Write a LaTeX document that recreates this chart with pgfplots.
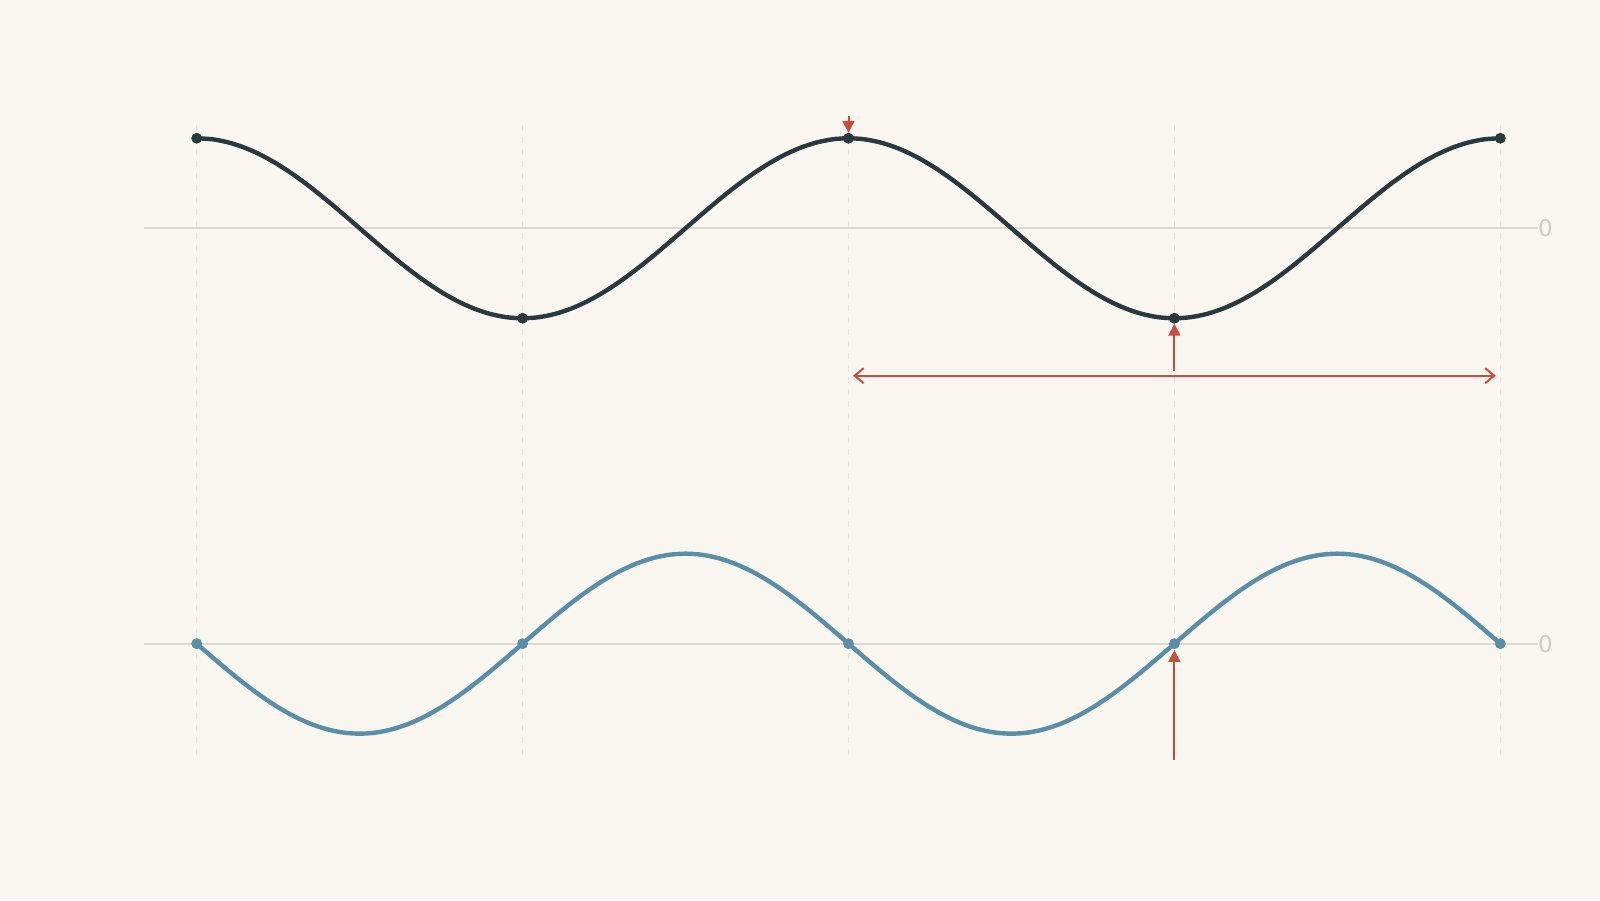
\documentclass[border=0pt]{standalone}
\usepackage{pgfplots}
\pgfplotsset{compat=1.18}
\usepackage{pgfplotstable}
\usepackage{fontspec}
\setmainfont{DejaVu Sans}
\usetikzlibrary{arrows.meta}

\definecolor{bg}{HTML}{F9F6F0}
\definecolor{ink}{HTML}{2A3940}
\definecolor{steel}{HTML}{5A8EA8}
\definecolor{accent}{HTML}{C94C3E}
\definecolor{zeroline}{HTML}{DDD9D0}
\definecolor{gridc}{HTML}{E7E3DB}
\definecolor{lbl}{HTML}{CFCBC3}

% cosine (top) and negative sine (bottom), sampled every 0.05
\pgfplotstableread{
t y
0.00 1
0.05 0.9877
0.10 0.9511
0.15 0.8910
0.20 0.8090
0.25 0.7071
0.30 0.5878
0.35 0.4540
0.40 0.3090
0.45 0.1564
0.50 0
0.55 -0.1564
0.60 -0.3090
0.65 -0.4540
0.70 -0.5878
0.75 -0.7071
0.80 -0.8090
0.85 -0.8910
0.90 -0.9511
0.95 -0.9877
1.00 -1
1.05 -0.9877
1.10 -0.9511
1.15 -0.8910
1.20 -0.8090
1.25 -0.7071
1.30 -0.5878
1.35 -0.4540
1.40 -0.3090
1.45 -0.1564
1.50 0
1.55 0.1564
1.60 0.3090
1.65 0.4540
1.70 0.5878
1.75 0.7071
1.80 0.8090
1.85 0.8910
1.90 0.9511
1.95 0.9877
2.00 1
2.05 0.9877
2.10 0.9511
2.15 0.8910
2.20 0.8090
2.25 0.7071
2.30 0.5878
2.35 0.4540
2.40 0.3090
2.45 0.1564
2.50 0
2.55 -0.1564
2.60 -0.3090
2.65 -0.4540
2.70 -0.5878
2.75 -0.7071
2.80 -0.8090
2.85 -0.8910
2.90 -0.9511
2.95 -0.9877
3.00 -1
3.05 -0.9877
3.10 -0.9511
3.15 -0.8910
3.20 -0.8090
3.25 -0.7071
3.30 -0.5878
3.35 -0.4540
3.40 -0.3090
3.45 -0.1564
3.50 0
3.55 0.1564
3.60 0.3090
3.65 0.4540
3.70 0.5878
3.75 0.7071
3.80 0.8090
3.85 0.8910
3.90 0.9511
3.95 0.9877
4.00 1
}\topcurve

\pgfplotstableread{
t y
0.00 0
0.05 -0.1564
0.10 -0.3090
0.15 -0.4540
0.20 -0.5878
0.25 -0.7071
0.30 -0.8090
0.35 -0.8910
0.40 -0.9511
0.45 -0.9877
0.50 -1
0.55 -0.9877
0.60 -0.9511
0.65 -0.8910
0.70 -0.8090
0.75 -0.7071
0.80 -0.5878
0.85 -0.4540
0.90 -0.3090
0.95 -0.1564
1.00 0
1.05 0.1564
1.10 0.3090
1.15 0.4540
1.20 0.5878
1.25 0.7071
1.30 0.8090
1.35 0.8910
1.40 0.9511
1.45 0.9877
1.50 1
1.55 0.9877
1.60 0.9511
1.65 0.8910
1.70 0.8090
1.75 0.7071
1.80 0.5878
1.85 0.4540
1.90 0.3090
1.95 0.1564
2.00 0
2.05 -0.1564
2.10 -0.3090
2.15 -0.4540
2.20 -0.5878
2.25 -0.7071
2.30 -0.8090
2.35 -0.8910
2.40 -0.9511
2.45 -0.9877
2.50 -1
2.55 -0.9877
2.60 -0.9511
2.65 -0.8910
2.70 -0.8090
2.75 -0.7071
2.80 -0.5878
2.85 -0.4540
2.90 -0.3090
2.95 -0.1564
3.00 0
3.05 0.1564
3.10 0.3090
3.15 0.4540
3.20 0.5878
3.25 0.7071
3.30 0.8090
3.35 0.8910
3.40 0.9511
3.45 0.9877
3.50 1
3.55 0.9877
3.60 0.9511
3.65 0.8910
3.70 0.8090
3.75 0.7071
3.80 0.5878
3.85 0.4540
3.90 0.3090
3.95 0.1564
4.00 0
}\botcurve

\pgfplotsset{
  panel/.style={
    scale only axis, width=697pt, height=318pt,
    at={(72pt,72.5pt)}, anchor=south west,
    xmin=-0.1617, xmax=4.1157,
    axis x line*=bottom, axis y line*=right,
    axis line style={draw=none},
    major tick length=0pt,
    xticklabels={},
    ytick={0}, ymajorgrids,
    y grid style={zeroline, line width=1pt},
    /pgf/number format/assume math mode=true,
    yticklabel style={font=\fontsize{11.5}{13}\selectfont, text=lbl, xshift=-3.5pt},
    clip=false,
  },
}

\begin{document}
\begin{tikzpicture}
\fill[bg] (0,0) rectangle (800pt,450pt);

% bottom panel, carries the vertical guides
\begin{axis}[panel,
  ymin=-1.237, ymax=5.830,
  xtick={0,1,2,3,4}, xmajorgrids,
  x grid style={gridc, line width=0.6pt, dash pattern=on 3pt off 3pt},
]
\addplot[steel, line width=2.2pt, smooth, line join=round] table[x=t, y=y] {\botcurve};
\addplot[steel, only marks, mark=*, mark size=2.5pt] coordinates {(0,0) (1,0) (2,0) (3,0) (4,0)};
\draw[accent, line width=1pt, -{Triangle[length=6pt, width=6pt]}] (axis cs:3,-1.292) -- (axis cs:3,-0.07);
\end{axis}

% top panel
\begin{axis}[panel,
  ymin=-5.852, ymax=1.214,
  xtick=\empty,
]
\addplot[ink, line width=2.2pt, smooth, line join=round] table[x=t, y=y] {\topcurve};
\addplot[ink, only marks, mark=*, mark size=2.5pt] coordinates {(0,1) (1,-1) (2,1) (3,-1) (4,1)};
\draw[accent, line width=1pt, -{Triangle[length=6pt, width=6pt]}] (axis cs:2,1.248) -- (axis cs:2,1.06);
\draw[accent, line width=1pt, -{Triangle[length=6pt, width=6pt]}] (axis cs:3,-1.586) -- (axis cs:3,-1.06);
\draw[accent, line width=1pt, {Straight Barb[length=4.5pt, width=7.5pt]}-{Straight Barb[length=4.5pt, width=7.5pt]}] (axis cs:2.014,-1.638) -- (axis cs:3.986,-1.638);
\end{axis}
\end{tikzpicture}
\end{document}
